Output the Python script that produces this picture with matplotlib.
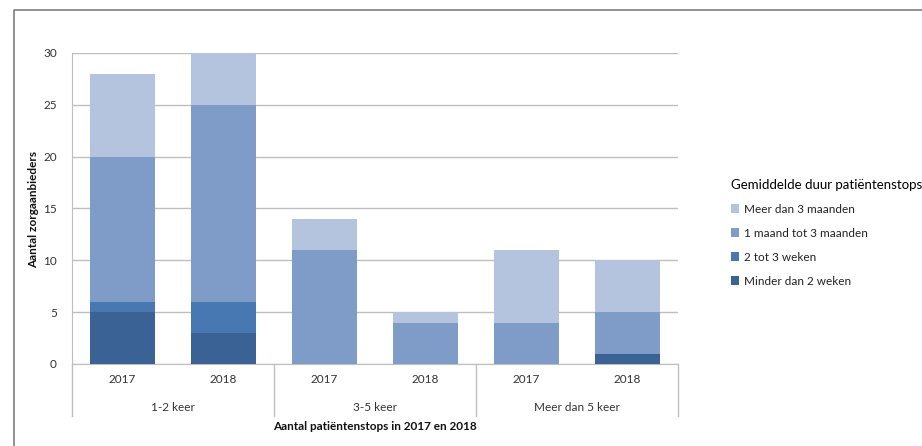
import numpy as np
import matplotlib
matplotlib.use("Agg")
import matplotlib.pyplot as plt
from matplotlib.lines import Line2D
from matplotlib.patches import Patch

plt.rcParams['font.family'] = ['Lato', 'DejaVu Sans']

groups = ['1-2 keer', '3-5 keer', 'Meer dan 5 keer']
years = ['2017', '2018']
series = ['Minder dan 2 weken', '2 tot 3 weken', '1 maand tot 3 maanden', 'Meer dan 3 maanden']
colors = ['#3B6294', '#4878B1', '#7F9CC9', '#B4C4DF']

# one value per bar: 1-2 keer 2017/2018, 3-5 keer 2017/2018, >5 keer 2017/2018
minder_2_weken = [5, 3, 0, 0, 0, 1]
twee_3_weken = [1, 3, 0, 0, 0, 0]
maand_3_maanden = [14, 19, 11, 4, 4, 4]
meer_3_maanden = [8, 5, 3, 1, 7, 5]
values = [minder_2_weken, twee_3_weken, maand_3_maanden, meer_3_maanden]

fig = plt.figure(figsize=(9.22, 4.46), dpi=100)
ax = fig.add_axes([0.0781, 0.1839, 0.6573, 0.6973])

x = np.arange(len(groups) * len(years))
bottom = np.zeros(len(x))
for name, vals, col in zip(series, values, colors):
    vals = np.array(vals, dtype=float)
    ax.bar(x, vals, 0.64, bottom=bottom, color=col, label=name, zorder=3)
    bottom += vals

ax.set_xlim(-0.5, len(x) - 0.5)
ax.set_ylim(0, 30)
ax.set_yticks(range(0, 31, 5))
ax.yaxis.grid(True, color='#BEBEBE', linewidth=1, zorder=0)
for s in ['top', 'right']:
    ax.spines[s].set_visible(False)
for s in ['left', 'bottom']:
    ax.spines[s].set_color('#BEBEBE')
ax.spines['left'].set_bounds(0, 30)
ax.tick_params(axis='both', length=0, labelsize=8.5, colors='#333333')
ax.tick_params(axis='y', pad=11)
ax.tick_params(axis='x', pad=7)
ax.set_xticks(x)
ax.set_xticklabels(years * len(groups))

# group separators and group labels
for b in np.arange(len(groups) + 1) * len(years) - 0.5:
    ax.plot([b, b], [0, -0.167], transform=ax.get_xaxis_transform(),
            color='#BEBEBE', linewidth=1, clip_on=False)
for i, g in enumerate(groups):
    ax.text(i * len(years) + (len(years) - 1) / 2, -0.14, g,
            transform=ax.get_xaxis_transform(), ha='center', va='center',
            fontsize=8.5, color='#333333')

ax.text(0.5, -0.2, 'Aantal patiëntenstops in 2017 en 2018', transform=ax.transAxes,
        ha='center', va='center', fontsize=8.5, fontweight='bold', color='#111111')
fig.text(34 / 922, 1 - 209 / 446, 'Aantal zorgaanbieders', rotation=90,
         ha='center', va='center', fontsize=8.5, fontweight='bold', color='#111111')

handles = [Patch(facecolor=c) for c in colors][::-1]
leg = fig.legend(handles, series[::-1], title='Gemiddelde duur patiëntenstops',
                 loc='upper left', bbox_to_anchor=(720 / 922, 1 - 168 / 446),
                 frameon=False, fontsize=8.5, title_fontsize=9.5,
                 handlelength=0.7, handleheight=0.7, handletextpad=0.4,
                 labelspacing=1.1, alignment='left')
for t in leg.get_texts():
    t.set_color('#222222')

# outer frame (left and top edges)
fig.add_artist(Line2D([13.5 / 922, 13.5 / 922, 1], [0, 1 - 9.5 / 446, 1 - 9.5 / 446],
                      transform=fig.transFigure, color='#7F7F7F', linewidth=1.2))

fig.savefig('out.png', dpi=100)
